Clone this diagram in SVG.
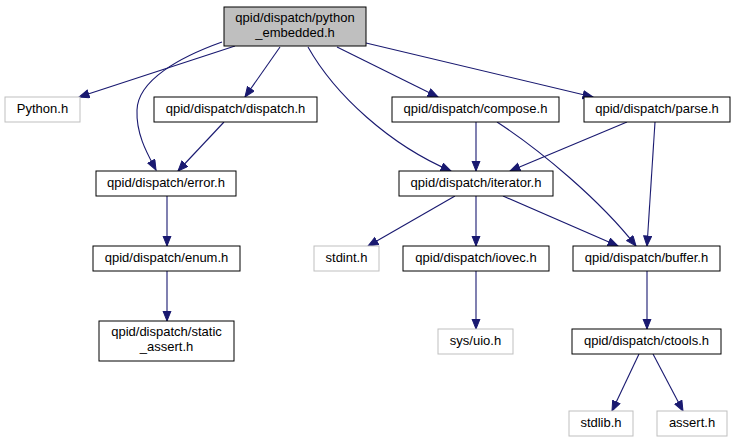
<svg xmlns="http://www.w3.org/2000/svg" width="736" height="443" viewBox="0 0 736 443">
  <style>
    .box { fill: #ffffff; stroke: #000000; stroke-width: 1; }
    .sys { fill: #ffffff; stroke: #bfbfbf; stroke-width: 1; }
    .root { fill: #bfbfbf; stroke: #000000; stroke-width: 1; }
    text { font-family: "Liberation Sans", Arial, Helvetica, sans-serif; font-size: 13px; fill: #000000; text-anchor: middle; }
    .edge { fill: none; stroke: #191970; stroke-width: 1.1; marker-end: url(#ah); }
  </style>
  <defs>
    <marker id="ah" markerWidth="12" markerHeight="10" refX="10.5" refY="4.5" orient="auto" markerUnits="userSpaceOnUse">
      <path d="M0.5,0.5 L10.5,4.5 L0.5,8.5 z" fill="#191970" stroke="#191970" stroke-width="1"/>
    </marker>
  </defs>
  <rect width="736" height="443" fill="#ffffff"/>

  <g id="edges">
    <path class="edge" d="M235,46 L79,97"/>
    <path class="edge" d="M222,42 C180,57 138,80 137,110 C136,135 148,155 156,170"/>
    <path class="edge" d="M280,47 L245,97"/>
    <path class="edge" d="M224,122 L178,171"/>
    <path class="edge" d="M308,47 C335,95 390,145 451,171"/>
    <path class="edge" d="M337,47 L438,97"/>
    <path class="edge" d="M366,43 L593,97"/>
    <path class="edge" d="M476,122 L476,171"/>
    <path class="edge" d="M627,122 L510,171"/>
    <path class="edge" d="M497,122 C540,150 600,200 636,246"/>
    <path class="edge" d="M655,122 L647,246"/>
    <path class="edge" d="M455,196 L368,246"/>
    <path class="edge" d="M476,196 L476,246"/>
    <path class="edge" d="M503,196 L618,246"/>
    <path class="edge" d="M476,271 L476,329"/>
    <path class="edge" d="M167,196 L167,246"/>
    <path class="edge" d="M167,271 L167,321"/>
    <path class="edge" d="M647,271 L647,329"/>
    <path class="edge" d="M639,354 L612,411"/>
    <path class="edge" d="M653,354 L683,411"/>
  </g>

  <g id="python_embedded">
    <rect class="root" x="224" y="7" width="142" height="39"/>
    <text x="295" y="22">qpid/dispatch/python</text>
    <text x="295" y="36.5">_embedded.h</text>
  </g>
  <g id="python_h">
    <rect class="sys" x="5" y="97" width="75" height="25"/>
    <text x="42.5" y="113">Python.h</text>
  </g>
  <g id="dispatch_h">
    <rect class="box" x="154" y="97" width="163" height="25"/>
    <text x="235.5" y="113">qpid/dispatch/dispatch.h</text>
  </g>
  <g id="compose_h">
    <rect class="box" x="392" y="97" width="167" height="25"/>
    <text x="475.5" y="113">qpid/dispatch/compose.h</text>
  </g>
  <g id="parse_h">
    <rect class="box" x="584" y="97" width="146" height="25"/>
    <text x="657" y="113">qpid/dispatch/parse.h</text>
  </g>
  <g id="error_h">
    <rect class="box" x="96" y="171" width="140" height="25"/>
    <text x="166" y="187">qpid/dispatch/error.h</text>
  </g>
  <g id="iterator_h">
    <rect class="box" x="399" y="171" width="154" height="25"/>
    <text x="476" y="187">qpid/dispatch/iterator.h</text>
  </g>
  <g id="enum_h">
    <rect class="box" x="93" y="246" width="147" height="25"/>
    <text x="166.5" y="262">qpid/dispatch/enum.h</text>
  </g>
  <g id="stdint_h">
    <rect class="sys" x="314" y="246" width="65" height="25"/>
    <text x="346.5" y="262">stdint.h</text>
  </g>
  <g id="iovec_h">
    <rect class="box" x="403" y="246" width="146" height="25"/>
    <text x="476" y="262">qpid/dispatch/iovec.h</text>
  </g>
  <g id="buffer_h">
    <rect class="box" x="573" y="246" width="147" height="25"/>
    <text x="646.5" y="262">qpid/dispatch/buffer.h</text>
  </g>
  <g id="static_assert_h">
    <rect class="box" x="99" y="321" width="135" height="40"/>
    <text x="166.5" y="336">qpid/dispatch/static</text>
    <text x="166.5" y="350.5">_assert.h</text>
  </g>
  <g id="sys_uio_h">
    <rect class="sys" x="438" y="329" width="75" height="25"/>
    <text x="475.5" y="345">sys/uio.h</text>
  </g>
  <g id="ctools_h">
    <rect class="box" x="572" y="329" width="149" height="25"/>
    <text x="646.5" y="345">qpid/dispatch/ctools.h</text>
  </g>
  <g id="stdlib_h">
    <rect class="sys" x="569" y="411" width="64" height="25"/>
    <text x="601" y="427">stdlib.h</text>
  </g>
  <g id="assert_h">
    <rect class="sys" x="657" y="411" width="70" height="25"/>
    <text x="692" y="427">assert.h</text>
  </g>
</svg>
